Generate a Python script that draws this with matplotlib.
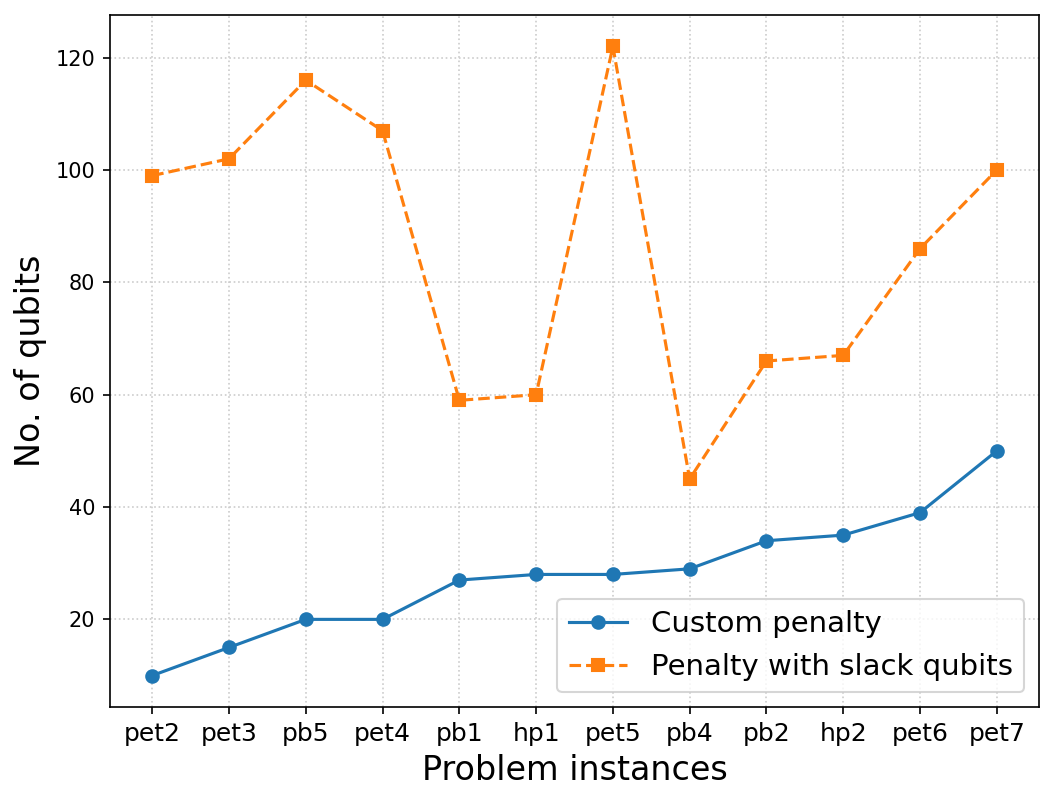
import matplotlib
matplotlib.use("Agg")
import matplotlib.pyplot as plt

instances = ["pet2", "pet3", "pb5", "pet4", "pb1", "hp1", "pet5", "pb4", "pb2", "hp2", "pet6", "pet7"]
custom_penalty = [10, 15, 20, 20, 27, 28, 28, 29, 34, 35, 39, 50]
slack_penalty = [99, 102, 116, 107, 59, 60, 122, 45, 66, 67, 86, 100]

fig = plt.figure(figsize=(1055 / 150, 803 / 150), dpi=150)
ax = fig.add_axes([110 / 1055, 1 - 707 / 803, 929 / 1055, 692 / 803])
x = range(len(instances))
ax.plot(x, custom_penalty, "-o", color="#1f77b4", label="Custom penalty")
ax.plot(x, slack_penalty, "--s", color="#ff7f0e", label="Penalty with slack qubits")
ax.set_xticks(list(x))
ax.set_xticklabels(instances, fontsize=12)
ax.tick_params(axis="y", labelsize=10)
ax.set_xlabel("Problem instances", fontsize=16)
ax.set_ylabel("No. of qubits", fontsize=16)
ax.grid(True, linestyle=":", color="#cccccc", linewidth=0.8)
ax.legend(fontsize=14, loc="lower right")
fig.savefig("out.png", dpi=150)
